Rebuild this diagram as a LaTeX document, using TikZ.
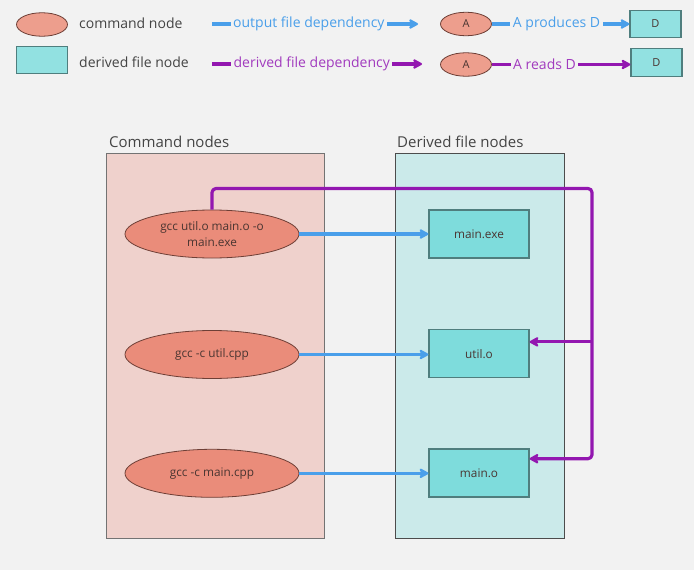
\documentclass[tikz,border=0pt]{standalone}
\usepackage{fontspec}
\setmainfont{Open Sans}
\usetikzlibrary{arrows.meta,calc,shapes.geometric}

\definecolor{bg}{HTML}{F2F2F2}
\definecolor{cmdfill}{HTML}{EA8C7A}
\definecolor{cmdlegend}{HTML}{ED9E8D}
\definecolor{cmdedge}{HTML}{6E3F36}
\definecolor{filefill}{HTML}{7EDCDC}
\definecolor{filelegend}{HTML}{92E1E1}
\definecolor{fileedge}{HTML}{4F7E7E}
\definecolor{cmdpanel}{HTML}{EFD1CC}
\definecolor{filepanel}{HTML}{CBEAEA}
\definecolor{outblue}{HTML}{4A9FEA}
\definecolor{readpurple}{HTML}{9317B0}
\definecolor{readtext}{HTML}{A13BBE}
\definecolor{labelgray}{HTML}{444444}
\definecolor{nodetext}{HTML}{4A3531}

\tikzset{
  cmdnode/.style={ellipse, draw=cmdedge, fill=cmdfill, line width=0.8pt,
    minimum width=174pt, minimum height=48pt, inner sep=0pt, align=center,
    text=nodetext, font=\fontsize{11.8}{16}\selectfont},
  filenode/.style={rectangle, draw=fileedge, fill=filefill, line width=1.2pt,
    minimum width=100pt, minimum height=48pt, inner sep=0pt,
    text=nodetext, font=\fontsize{11.8}{16}\selectfont},
  legcmd/.style={ellipse, draw=cmdedge, fill=cmdlegend, line width=0.8pt,
    minimum width=51pt, minimum height=23.5pt, inner sep=0pt,
    text=nodetext, font=\fontsize{11}{13}\selectfont},
  legfile/.style={rectangle, draw=fileedge, fill=filelegend, line width=1.2pt,
    minimum width=51pt, minimum height=27.5pt, inner sep=0pt,
    text=nodetext, font=\fontsize{11}{13}\selectfont},
  panel/.style={rectangle, line width=1.2pt, inner sep=0pt},
  title/.style={anchor=base west, inner sep=0pt, text=labelgray,
    font=\fontsize{15}{18}\selectfont},
  legtext/.style={anchor=west, inner sep=0pt, text=labelgray,
    font=\fontsize{14}{17}\selectfont},
  outdep/.style={draw=outblue, line width=3.2pt,
    -{Stealth[length=11pt,width=12pt,inset=3pt,round]}},
  readdep/.style={draw=readpurple, line width=3.2pt, line join=round,
    -{Stealth[length=11pt,width=12pt,inset=3pt,round]}},
  deplabel/.style={fill=bg, inner sep=2.5pt, font=\fontsize{14}{17}\selectfont},
}

\begin{document}
\begin{tikzpicture}[x=1pt,y=-1pt]
  \useasboundingbox[fill=bg] (0,0) rectangle (694,570);

  % ---- legend ----
  \node[legcmd] (lcmd) at (42,24.5) {};
  \node[legtext] (lcmdtxt) at (79,23) {command node};
  \node[legfile] (lfile) at (42,60) {};
  \node[legtext] (lfiletxt) at (79,62) {derived file node};

  \coordinate (lo1) at (212,24);
  \coordinate (lo2) at (418,24);
  \draw[outdep] (lo1) -- node[deplabel, text=outblue, pos=0.47] {output file dependency} (lo2);
  \coordinate (lr1) at (212,64);
  \coordinate (lr2) at (422,64);
  \draw[readdep] (lr1) -- node[deplabel, text=readtext, pos=0.475] {derived file dependency} (lr2);

  \node[legcmd] (la1) at (466,24) {A};
  \node[legfile] (ld1) at (655.5,24) {D};
  \draw[outdep] (la1) -- node[deplabel, text=outblue, pos=0.47] {A produces D} (ld1);
  \node[legcmd] (la2) at (466,64.5) {A};
  \node[legfile] (ld2) at (656.5,62.5) {D};
  \draw[readdep] (la2.east) -- node[deplabel, text=readtext, pos=0.38] {A reads D} (la2.east -| ld2.west);

  % ---- panels ----
  \node[panel, draw=gray!90!black, fill=cmdpanel, minimum width=218pt, minimum height=385pt,
    anchor=north west] (cmdpanel) at (106,153) {};
  \node[title] (cmdtitle) at (109,147) {Command nodes};
  \node[panel, draw=black!70, fill=filepanel, minimum width=169pt, minimum height=385pt,
    anchor=north west] (filepanel) at (394.5,153) {};
  \node[title] (filetitle) at (397,147) {Derived file nodes};

  % ---- command nodes ----
  \node[cmdnode] (link) at (212,234) {gcc util.o main.o -o\\main.exe};
  \node[cmdnode] (ccutil) at (212,354.5) {gcc -c util.cpp};
  \node[cmdnode] (ccmain) at (212,473.3) {gcc -c main.cpp};

  % ---- derived files ----
  \node[filenode] (exe) at (479,234) {main.exe};
  \node[filenode] (utilo) at (479,353.7) {util.o};
  \node[filenode] (maino) at (479,473) {main.o};

  % ---- outputs ----
  \draw[outdep] (link) -- (exe);
  \draw[outdep] (ccutil.east) -- (utilo.west |- ccutil.east);
  \draw[outdep] (ccmain.east) -- (maino.west |- ccmain.east);

  % ---- reads ----
  \coordinate (bus) at (592,188.5);
  \coordinate (utilin) at ($(utilo.north east)!0.26!(utilo.south east)$);
  \coordinate (mainin) at ($(maino.north east)!0.21!(maino.south east)$);
  \draw[readdep, rounded corners=4pt] (link.north) -- (link.north |- bus) -- (bus)
    -- (bus |- mainin) -- (mainin);
  \draw[readdep] (bus |- utilin) -- (utilin);
\end{tikzpicture}
\end{document}
